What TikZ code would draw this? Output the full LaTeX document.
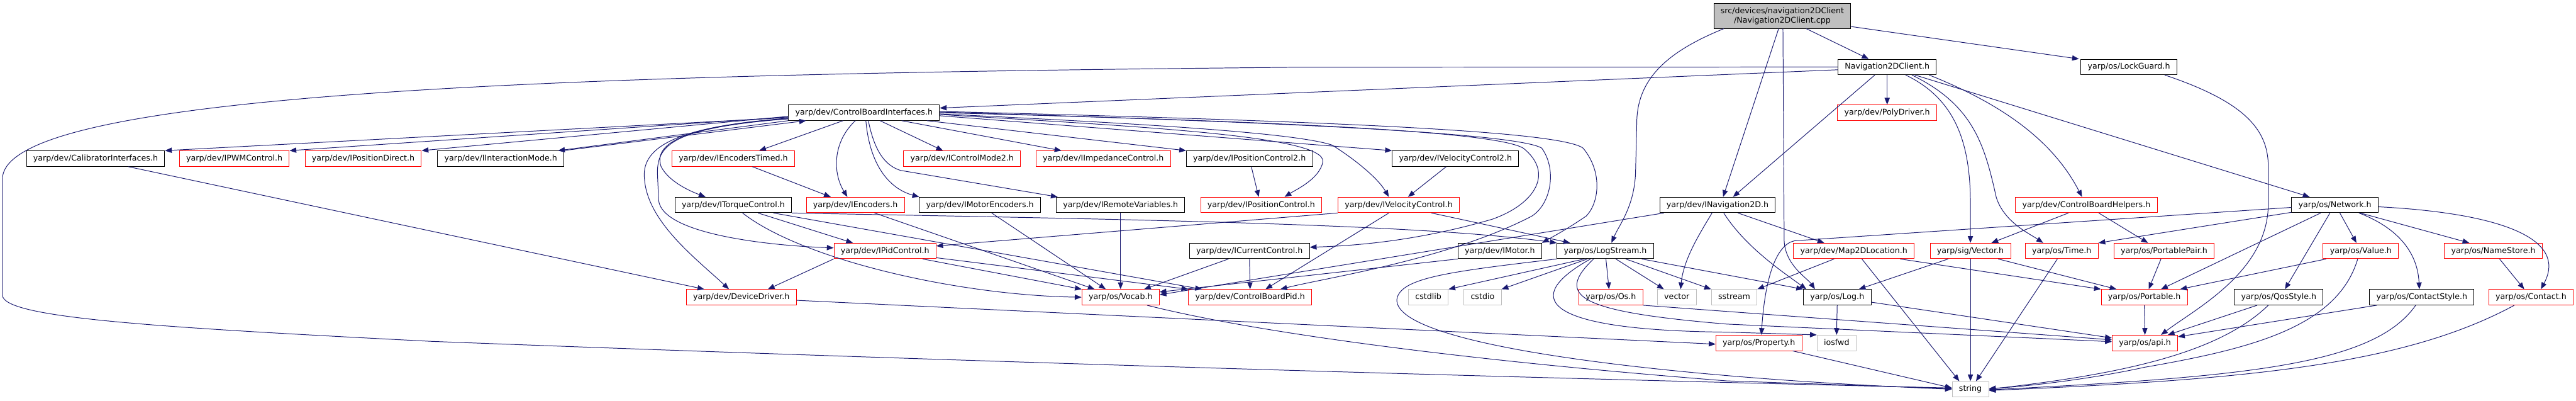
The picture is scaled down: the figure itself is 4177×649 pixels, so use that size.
\documentclass[tikz,border=0pt]{standalone}
\usepackage{fontspec}
\newfontfamily\dvs{DejaVu Sans}
\usetikzlibrary{arrows.meta}
\definecolor{edgec}{HTML}{191970}
\definecolor{redc}{HTML}{FF0000}
\definecolor{grayc}{HTML}{BFBFBF}
\tikzset{
  nd/.style={draw=black, fill=white, line width=1pt, font=\dvs\fontsize{12.9}{15.5}\selectfont,
    inner xsep=11pt, inner ysep=0pt, minimum height=25pt, text height=10pt, text depth=3pt},
  rd/.style={nd, draw=redc},
  gd/.style={nd, draw=grayc},
  mainnode/.style={draw=black, fill=grayc, line width=1pt, font=\dvs\fontsize{12.9}{15.5}\selectfont,
    inner xsep=11pt, inner ysep=0pt, minimum height=40pt, align=center},
  edge/.style={draw=edgec, line width=1pt, -{Triangle[length=11pt,width=8.5pt]}}
}
\begin{document}
\begin{tikzpicture}[x=1pt,y=-1pt]
\useasboundingbox (0,0) rectangle (4177,649);
% row 0
\node[mainnode] (main) at (2890,26) {src/devices/navigation2DClient\\/Navigation2DClient.cpp};
% row 1
\node[nd] (n2dh) at (3060,108.5) {Navigation2DClient.h};
\node[nd] (lockg) at (3452,108.5) {yarp/os/LockGuard.h};
% row 2
\node[nd] (cbi) at (1401,182.5) {yarp/dev/ControlBoardInterfaces.h};
\node[rd] (poly) at (3060,182.5) {yarp/dev/PolyDriver.h};
% row 3
\node[nd] (calib) at (155,257) {yarp/dev/CalibratorInterfaces.h};
\node[rd] (pwm) at (380,257) {yarp/dev/IPWMControl.h};
\node[rd] (pdir) at (589,257) {yarp/dev/IPositionDirect.h};
\node[nd] (imode) at (812,257) {yarp/dev/IInteractionMode.h};
\node[rd] (enct) at (1189,257) {yarp/dev/IEncodersTimed.h};
\node[rd] (cm2) at (1560,257) {yarp/dev/IControlMode2.h};
\node[rd] (imp) at (1789,257) {yarp/dev/IImpedanceControl.h};
\node[nd] (pc2) at (2026,257) {yarp/dev/IPositionControl2.h};
\node[nd] (vc2) at (2360,257) {yarp/dev/IVelocityControl2.h};
% row 4
\node[nd] (torq) at (1189,332) {yarp/dev/ITorqueControl.h};
\node[rd] (enc) at (1387,332) {yarp/dev/IEncoders.h};
\node[nd] (menc) at (1589,332) {yarp/dev/IMotorEncoders.h};
\node[nd] (rvar) at (1817,332) {yarp/dev/IRemoteVariables.h};
\node[rd] (pc) at (2045,332) {yarp/dev/IPositionControl.h};
\node[rd] (vc) at (2268,332) {yarp/dev/IVelocityControl.h};
\node[nd] (inav) at (2785,332) {yarp/dev/INavigation2D.h};
\node[rd] (cbh) at (3383,332) {yarp/dev/ControlBoardHelpers.h};
\node[nd] (net) at (3786,332) {yarp/os/Network.h};
% row 5
\node[rd] (pid) at (1435,406.5) {yarp/dev/IPidControl.h};
\node[nd] (cur) at (2026,406.5) {yarp/dev/ICurrentControl.h};
\node[nd] (motor) at (2432,406.5) {yarp/dev/IMotor.h};
\node[nd] (logs) at (2603,406.5) {yarp/os/LogStream.h};
\node[rd] (map) at (3006,406.5) {yarp/dev/Map2DLocation.h};
\node[rd] (vec) at (3195,406.5) {yarp/sig/Vector.h};
\node[rd] (time) at (3343,406.5) {yarp/os/Time.h};
\node[rd] (ppair) at (3509,406.5) {yarp/os/PortablePair.h};
\node[rd] (value) at (3828,406.5) {yarp/os/Value.h};
\node[rd] (names) at (4043,406.5) {yarp/os/NameStore.h};
% row 6
\node[rd] (dd) at (1202,481.5) {yarp/dev/DeviceDriver.h};
\node[rd] (vocab) at (1817,481.5) {yarp/os/Vocab.h};
\node[rd] (cbpid) at (2027,481.5) {yarp/dev/ControlBoardPid.h};
\node[gd] (cstdlib) at (2316,481.5) {cstdlib};
\node[gd] (cstdio) at (2404,481.5) {cstdio};
\node[rd] (os) at (2612,481.5) {yarp/os/Os.h};
\node[gd] (vector) at (2719,481.5) {vector};
\node[gd] (sstream) at (2812,481.5) {sstream};
\node[nd] (log) at (2979,481.5) {yarp/os/Log.h};
\node[rd] (port) at (3477,481.5) {yarp/os/Portable.h};
\node[nd] (qos) at (3695,481.5) {yarp/os/QosStyle.h};
\node[nd] (cstyle) at (3927,481.5) {yarp/os/ContactStyle.h};
\node[rd] (contact) at (4104,481.5) {yarp/os/Contact.h};
% row 7
\node[rd] (prop) at (2852,555.5) {yarp/os/Property.h};
\node[gd] (iosfwd) at (2978,555.5) {iosfwd};
\node[rd] (api) at (3478,555.5) {yarp/os/api.h};
% row 8
\node[gd] (string) at (3195,630.5) {string};

% ---- edges from main
\draw[edge] ([xshift=39pt]main.south) -- ([xshift=-30pt]n2dh.north);
\draw[edge] ([yshift=-17pt]main.east) -- ([xshift=-81pt]lockg.north);
\draw[edge] ([xshift=-6pt]main.south) -- ([xshift=9pt]inav.north);
\draw[edge] ([xshift=1pt]main.south) -- (2893,390) .. controls (2895,430) and (2930,450) .. ([xshift=-36pt]log.north);
\draw[edge] ([xshift=-95pt]main.south) .. controls (2700,85) and (2654,130) .. (2654,200) -- (2652,280) .. controls (2650,335) and (2625,365) .. ([xshift=10pt]logs.north);
% ---- Navigation2DClient.h
\draw[edge] ([yshift=-4.5pt]n2dh.west) -- ([yshift=7.5pt]cbi.east);
\draw[edge] (n2dh.west) -- (2100,109) .. controls (900,120) and (4,150) .. (4,290) -- (4,478) .. controls (4,515) and (250,530) .. (700,553) .. controls (1800,595) and (2800,620) .. ([yshift=2pt]string.west);
\draw[edge] (n2dh.south) -- (poly.north);
\draw[edge] ([xshift=-20pt]n2dh.south) -- ([xshift=25pt]inav.north);
\draw[edge] ([xshift=30pt]n2dh.south) .. controls (3170,160) and (3195,230) .. (3195,330) -- (vec.north);
\draw[edge] ([xshift=40pt]n2dh.south) .. controls (3200,170) and (3218,235) .. (3237,320) .. controls (3250,360) and (3290,378) .. ([xshift=-30pt]time.north);
\draw[edge] ([xshift=45pt]n2dh.south) -- ([xshift=-41pt]net.north);
\draw[edge] ([xshift=68pt]n2dh.south) .. controls (3250,170) and (3330,230) .. ([xshift=-7pt]cbh.north);
% ---- LockGuard
\draw[edge] ([xshift=58pt]lockg.south) .. controls (3640,165) and (3678,210) .. (3678,270) -- (3678,330) .. controls (3678,440) and (3560,500) .. ([xshift=26pt]api.north);
% ---- ControlBoardInterfaces
\draw[edge] ([yshift=-8pt]cbi.west) -- (calib.north east);
\draw[edge] ([yshift=-7pt]cbi.west) -- (pwm.north east);
\draw[edge] ([yshift=-6pt]cbi.west) -- (pdir.north east);
\draw[edge] (cbi.south west) -- ([xshift=-10pt]imode.north east);
\draw[edge] ([xshift=-2pt]imode.north east) -- ([xshift=-94pt]cbi.south);
\draw[edge] ([xshift=-34pt]cbi.south) -- ([xshift=42pt]enct.north);
\draw[edge] ([xshift=-14pt]cbi.south) .. controls (1350,230) and (1350,280) .. ([xshift=-13pt]enc.north);
\draw[edge] ([yshift=-9pt]cbi.west) .. controls (1100,205) and (1060,235) .. (1072,270) .. controls (1085,295) and (1120,310) .. ([xshift=-45pt]torq.north);
\draw[edge] ([yshift=-10pt]cbi.west) .. controls (1080,205) and (1040,245) .. (1045,290) .. controls (1050,360) and (1130,420) .. ([xshift=-20pt]dd.north);
\draw[edge] ([yshift=-10pt]cbi.west) .. controls (1090,207) and (1066,235) .. (1066,280) -- (1068,325) .. controls (1075,380) and (1250,398) .. ([yshift=5pt]pid.west);
\draw[edge] ([xshift=26pt]cbi.south) -- ([xshift=-31pt]cm2.north);
\draw[edge] ([xshift=61pt]cbi.south) -- ([xshift=-68pt]imp.north);
\draw[edge] ([xshift=102pt]cbi.south) -- (pc2.north west);
\draw[edge] ([xshift=3pt]cbi.south) .. controls (1410,265) and (1440,305) .. (menc.north west);
\draw[edge] ([xshift=7pt]cbi.south) .. controls (1418,245) and (1435,268) .. (1460,276) -- ([xshift=-102pt]rvar.north);
\draw[edge] ([yshift=-5pt]cbi.east) -- (vc2.north west);
\draw[edge] ([yshift=-3pt]cbi.east) .. controls (1850,205) and (2150,220) .. (2145,262) .. controls (2140,290) and (2100,308) .. ([xshift=38pt]pc.north);
\draw[edge] ([yshift=-2pt]cbi.east) .. controls (1850,200) and (2100,215) .. (2160,235) .. controls (2200,260) and (2235,290) .. ([xshift=-16pt]vc.north);
\draw[edge] (cbi.east) .. controls (2000,195) and (2420,210) .. (2470,240) .. controls (2520,280) and (2490,330) .. (2420,355) .. controls (2300,390) and (2200,398) .. ([yshift=6pt]cur.east);
\draw[edge] ([yshift=1pt]cbi.east) .. controls (2050,197) and (2460,215) .. (2500,240) .. controls (2525,275) and (2515,330) .. (2484,350) .. controls (2350,420) and (2150,450) .. ([xshift=49pt]cbpid.north);
\draw[edge] ([yshift=2pt]cbi.east) .. controls (2150,196) and (2530,212) .. (2567,240) .. controls (2600,280) and (2592,330) .. (2572,350) .. controls (2540,372) and (2515,385) .. (motor.north east);
% ---- row 3/4 headers
\draw[edge] ([xshift=53pt]calib.south) -- ([xshift=-60pt]dd.north);
\draw[edge] ([xshift=31pt]enct.south) -- ([xshift=-40pt]enc.north);
\draw[edge] ([xshift=3pt]pc2.south) -- ([xshift=-4pt]pc.north);
\draw[edge] ([xshift=-15pt]vc2.south) -- ([xshift=15pt]vc.north);
\draw[edge] ([xshift=40pt]torq.south) -- ([xshift=-52pt]pid.north);
\draw[edge] ([xshift=15pt]torq.south) .. controls (1300,420) and (1550,478) .. (vocab.west);
\draw[edge] ([xshift=65pt]torq.south) -- ([xshift=-78pt]cbpid.north);
\draw[edge] (torq.south east) .. controls (1800,355) and (2300,362) .. (logs.north west);
\draw[edge] ([xshift=31pt]enc.south) -- ([xshift=-42pt]vocab.north);
\draw[edge] ([xshift=19pt]menc.south) -- ([xshift=-24pt]vocab.north);
\draw[edge] (rvar.south) -- (vocab.north);
\draw[edge] (vc.south west) -- ([yshift=8pt]pid.east);
\draw[edge] ([xshift=-16pt]vc.south) -- ([xshift=25pt]cbpid.north);
\draw[edge] ([xshift=53pt]vc.south) -- ([xshift=-57pt]logs.north);
\draw[edge] ([xshift=-87pt]inav.south) -- ([yshift=4pt]vocab.east);
% ---- row 5
\draw[edge] ([xshift=61pt]pid.south) -- ([xshift=-63pt]vocab.north);
\draw[edge] ([yshift=-11pt]pid.east) -- (cbpid.north west);
\draw[edge] (pid.south west) -- ([xshift=43pt]dd.north);
\draw[edge] ([xshift=-34pt]cur.south) -- ([xshift=38pt]vocab.north);
\draw[edge] (cur.south) -- (cbpid.north);
\draw[edge] (motor.south west) -- ([yshift=8.5pt]vocab.east);
\draw[edge] ([xshift=-34pt]logs.south) -- (cstdlib.north east);
\draw[edge] ([xshift=-29pt]logs.south) -- (cstdio.north east);
\draw[edge] ([xshift=1pt]logs.south) -- ([xshift=-3pt]os.north);
\draw[edge] ([xshift=17pt]logs.south) -- ([xshift=-21pt]vector.north);
\draw[edge] ([xshift=33pt]logs.south) -- (sstream.north west);
\draw[edge] ([xshift=59pt]logs.south) -- (log.north west);
\draw[edge] (logs.south west) .. controls (2350,440) and (2270,450) .. (2265,485) .. controls (2260,560) and (2700,612) .. (string.west);
\draw[edge] ([xshift=-19pt]logs.south) .. controls (2520,480) and (2560,505) .. (2800,525) -- ([yshift=2pt]api.west);
\draw[edge] ([xshift=-24pt]logs.south) .. controls (2470,480) and (2490,535) .. (2800,538) -- (iosfwd.north west);
\draw[edge] ([xshift=-32pt]map.south) -- (sstream.north east);
\draw[edge] ([xshift=13pt]map.south) -- ([xshift=-18pt]string.north);
\draw[edge] ([xshift=75pt]map.south) -- (port.north west);
\draw[edge] ([xshift=33pt]inav.south) -- ([xshift=-48pt]map.north);
\draw[edge] ([xshift=10pt]inav.south) .. controls (2830,400) and (2890,440) .. ([xshift=-50pt]log.north);
\draw[edge] ([xshift=-9pt]inav.south) .. controls (2755,380) and (2730,420) .. ([xshift=6pt]vector.north);
\draw[edge] ([xshift=-36pt]vec.south) -- ([xshift=35pt]log.north);
\draw[edge] (vec.south) -- (string.north);
\draw[edge] ([xshift=45pt]vec.south) -- ([xshift=-45pt]port.north);
\draw[edge] ([xshift=-7pt]time.south) -- ([xshift=9pt]string.north);
\draw[edge] ([xshift=-29pt]cbh.south) -- ([xshift=34pt]vec.north);
\draw[edge] ([xshift=20pt]cbh.south) -- ([xshift=-26pt]ppair.north);
\draw[edge] ([xshift=-5pt]ppair.south) -- ([xshift=7pt]port.north);
% ---- Network
\draw[edge] ([yshift=-4pt]net.west) -- (2910,390) .. controls (2880,396) and (2862,450) .. ([xshift=4pt]prop.north);
\draw[edge] ([yshift=-12pt]net.west) -- (time.north east);
\draw[edge] ([xshift=-23pt]net.south) -- ([xshift=27pt]port.north);
\draw[edge] ([xshift=-8pt]net.south) -- ([xshift=10pt]qos.north);
\draw[edge] ([xshift=8pt]net.south) -- ([xshift=-7pt]value.north);
\draw[edge] ([xshift=39pt]net.south) .. controls (3890,370) and (3920,410) .. ([xshift=-4pt]cstyle.north);
\draw[edge] ([xshift=41pt]net.south) -- ([xshift=-39pt]names.north);
\draw[edge] ([yshift=-3pt]net.east) .. controls (4050,345) and (4165,385) .. ([xshift=16pt]contact.north);
\draw[edge] ([xshift=-56pt]value.south) -- ([xshift=58pt]port.north);
\draw[edge] ([xshift=-5pt]value.south) .. controls (3790,530) and (3650,565) .. (3477,595) .. controls (3400,612) and (3300,625) .. ([yshift=1pt]string.east);
\draw[edge] ([xshift=10pt]names.south) -- ([xshift=-11pt]contact.north);
% ---- row 6
\draw[edge] (os.south east) -- ([yshift=5pt]api.west);
\draw[edge] (log.south) -- (iosfwd.north);
\draw[edge] ([yshift=-8pt]log.east) -- ([yshift=8pt]api.west);
\draw[edge] (port.south) -- (api.north);
\draw[edge] ([xshift=-35pt]qos.south) -- ([xshift=37pt]api.north);
\draw[edge] ([xshift=-17pt]qos.south) .. controls (3600,570) and (3450,605) .. (string.east);
\draw[edge] ([xshift=-73pt]cstyle.south) -- ([yshift=10pt]api.east);
\draw[edge] ([xshift=-10pt]cstyle.south) .. controls (3850,590) and (3650,610) .. ([yshift=-1pt]string.east);
\draw[edge] ([xshift=-27pt]contact.south) .. controls (3900,590) and (3650,615) .. ([yshift=-2pt]string.east);
\draw[edge] ([yshift=-5pt]dd.east) -- ([yshift=-2pt]prop.west);
\draw[edge] ([xshift=43pt]vocab.south) .. controls (2000,530) and (2300,578) .. (2800,617) -- ([yshift=1pt]string.west);
\draw[edge] ([xshift=55pt]prop.south) -- ([yshift=2pt]string.west);
\end{tikzpicture}
\end{document}
